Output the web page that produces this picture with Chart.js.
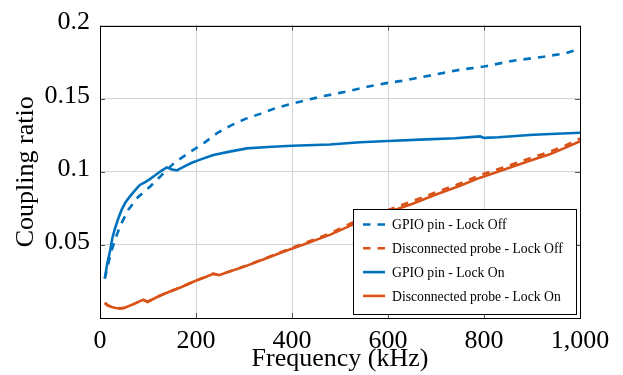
<!DOCTYPE html>
<html>
<head>
<meta charset="utf-8">
<script src="https://cdn.jsdelivr.net/npm/chart.js@4.4.0/dist/chart.umd.min.js"></script>
<style>
html, body { margin: 0; padding: 0; background: #fff; }
</style>
</head>
<body>
<canvas id="canvas" width="623" height="375"></canvas>
<script>

var xTicks = [0, 200, 400, 600, 800, 1000];
var yTicks = [0.05, 0.1, 0.15, 0.2];

var seriesNames = [
    'GPIO pin - Lock Off',
    'Disconnected probe - Lock Off',
    'GPIO pin - Lock On',
    'Disconnected probe - Lock On'
];

// GPIO pin, lock off (dashed blue)
var gpioOffFreq  = [10, 17, 24, 28, 32, 42, 59, 80, 104, 128, 156, 189, 217, 244, 272, 303, 335, 366, 397, 431, 462, 497, 528, 562, 594, 628, 658, 687, 750, 800, 861, 924, 969, 990, 1000];
var gpioOffRatio = [0.027, 0.037, 0.046, 0.050, 0.054, 0.063, 0.074, 0.083, 0.0898, 0.0976, 0.1065, 0.1138, 0.1198, 0.1264, 0.1316, 0.1362, 0.1398, 0.1436, 0.1464, 0.1491, 0.1515, 0.1538, 0.156, 0.1585, 0.1605, 0.1622, 0.164, 0.1658, 0.1698, 0.172, 0.176, 0.1787, 0.181, 0.1831, 0.1845];

// disconnected probe, lock off (dashed orange)
var probeOffFreq  = [10, 16, 24, 33, 42, 50, 59, 70, 80, 90, 99, 120, 142, 170, 198, 220, 236, 248, 270, 302, 340, 382, 430, 480, 524, 560, 597, 650, 700, 750, 792, 850, 900, 937, 970, 1000];
var probeOffRatio = [0.0105, 0.0088, 0.0076, 0.0069, 0.0066, 0.0069, 0.008, 0.0095, 0.011, 0.0126, 0.0111, 0.0146, 0.0177, 0.0213, 0.0254, 0.0281, 0.0303, 0.0294, 0.0319, 0.0355, 0.0403, 0.0457, 0.0517, 0.058, 0.065, 0.069, 0.0735, 0.0798, 0.086, 0.092, 0.0978, 0.104, 0.1097, 0.1137, 0.118, 0.1228];

// GPIO pin, lock on (solid blue)
var gpioOnFreq  = [10, 15, 21, 26, 31, 38, 45, 53, 62, 72, 83, 94, 104, 115, 127, 139, 150, 160, 175, 190, 210, 236, 270, 306, 350, 400, 479, 542, 600, 667, 740, 792, 800, 830, 903, 1000];
var gpioOnRatio = [0.027, 0.037, 0.046, 0.055, 0.061, 0.068, 0.074, 0.079, 0.083, 0.087, 0.091, 0.093, 0.095, 0.0976, 0.1005, 0.103, 0.1015, 0.101, 0.1035, 0.106, 0.1085, 0.1115, 0.1138, 0.116, 0.117, 0.1178, 0.1187, 0.1202, 0.1211, 0.122, 0.123, 0.1242, 0.1232, 0.1236, 0.1253, 0.1267];

// disconnected probe, lock on (solid orange)
var probeOnFreq  = [10, 16, 24, 33, 42, 50, 59, 70, 80, 90, 99, 120, 142, 170, 198, 220, 236, 248, 270, 302, 340, 382, 430, 480, 524, 560, 597, 650, 700, 750, 792, 850, 900, 937, 970, 1000];
var probeOnRatio = [0.0102, 0.0085, 0.0075, 0.0068, 0.0065, 0.0068, 0.008, 0.0095, 0.011, 0.0125, 0.011, 0.0145, 0.0176, 0.0212, 0.0253, 0.028, 0.0302, 0.0293, 0.0318, 0.0353, 0.040, 0.0453, 0.051, 0.057, 0.0635, 0.0675, 0.072, 0.078, 0.0845, 0.0905, 0.096, 0.1025, 0.108, 0.112, 0.1165, 0.1209];

var blue = '#0072bd';
var orange = '#d95319';
var serif = "'Liberation Serif', 'DejaVu Serif', serif";

function points(xs, ys) {
    return xs.map(function (x, i) { return {x: x, y: ys[i]}; });
}

function makeSet(i, xs, ys, color, dashed, order) {
    return {
        label: seriesNames[i],
        data: points(xs, ys),
        borderColor: color,
        backgroundColor: color,
        borderWidth: 2.6,
        borderDash: dashed ? [7.5, 7] : [],
        pointRadius: 0,
        tension: 0,
        fill: false,
        order: order
    };
}

var framePlugin = {
    id: 'frame',
    afterDatasetsDraw: function (chart) {
        var ctx = chart.ctx;
        var a = chart.chartArea;
        var sx = chart.scales.x, sy = chart.scales.y;
        ctx.save();
        ctx.setLineDash([]);
        // inward tick marks like pgfplots
        ctx.strokeStyle = '#555';
        ctx.lineWidth = 1;
        ctx.beginPath();
        xTicks.forEach(function (v) {
            var px = Math.round(sx.getPixelForValue(v)) + 0.5;
            ctx.moveTo(px, a.top); ctx.lineTo(px, a.top + 5);
            ctx.moveTo(px, a.bottom); ctx.lineTo(px, a.bottom - 5);
        });
        yTicks.forEach(function (v) {
            var py = Math.round(sy.getPixelForValue(v)) + 0.5;
            ctx.moveTo(a.left, py); ctx.lineTo(a.left + 5, py);
            ctx.moveTo(a.right, py); ctx.lineTo(a.right - 5, py);
        });
        ctx.stroke();
        ctx.strokeStyle = '#000';
        ctx.strokeRect(Math.round(a.left) + 0.5, Math.round(a.top) + 0.5, Math.round(a.width), Math.round(a.height));
        ctx.restore();
    },
    afterDraw: function (chart) {
        var ctx = chart.ctx;
        var a = chart.chartArea;
        var w = 223, h = 105;
        var lx = Math.round(a.right - 4 - w), ly = Math.round(a.bottom - 4 - h);
        ctx.save();
        ctx.fillStyle = '#fff';
        ctx.fillRect(lx, ly, w, h);
        ctx.strokeStyle = '#000';
        ctx.lineWidth = 1;
        ctx.setLineDash([]);
        ctx.strokeRect(lx + 0.5, ly + 0.5, w, h);
        ctx.font = '13.7px ' + serif;
        ctx.textBaseline = 'middle';
        ctx.textAlign = 'left';
        chart.data.datasets.forEach(function (ds, i) {
            var y = ly + 15.5 + i * 23.8;
            ctx.beginPath();
            ctx.strokeStyle = ds.borderColor;
            ctx.lineWidth = ds.borderWidth;
            ctx.setLineDash(ds.borderDash);
            ctx.moveTo(lx + 10, y);
            ctx.lineTo(lx + 32, y);
            ctx.stroke();
            ctx.fillStyle = '#000';
            ctx.fillText(ds.label, lx + 39, y + 1);
        });
        ctx.restore();
    }
};

var ctx = document.getElementById('canvas').getContext('2d');
window.myChart = new Chart(ctx, {
    type: 'line',
    data: {
        datasets: [
            makeSet(0, gpioOffFreq, gpioOffRatio, blue, true, 4),
            makeSet(1, probeOffFreq, probeOffRatio, orange, true, 3),
            makeSet(2, gpioOnFreq, gpioOnRatio, blue, false, 2),
            makeSet(3, probeOnFreq, probeOnRatio, orange, false, 1)
        ]
    },
    options: {
        responsive: false,
        animation: false,
        devicePixelRatio: 1,
        layout: {
            padding: {left: 0, right: 43, top: 18, bottom: 0}
        },
        plugins: {
            legend: {display: false},
            tooltip: {enabled: false}
        },
        scales: {
            x: {
                type: 'linear',
                min: 0,
                max: 1000,
                afterBuildTicks: function (scale) {
                    scale.ticks = xTicks.map(function (v) { return {value: v}; });
                },
                afterFit: function (scale) { scale.height = 57; },
                grid: {color: '#d4d4d4', lineWidth: 1, drawTicks: false},
                border: {display: false},
                ticks: {
                    padding: 8,
                    color: '#000',
                    font: {family: serif, size: 26},
                    maxRotation: 0,
                    callback: function (v) { return v.toLocaleString('en-US'); }
                },
                title: {
                    display: true,
                    text: 'Frequency (kHz)',
                    color: '#000',
                    font: {family: serif, size: 26},
                    padding: {top: 0, bottom: 0}
                }
            },
            y: {
                min: 0,
                max: 0.2,
                afterBuildTicks: function (scale) {
                    scale.ticks = yTicks.map(function (v) { return {value: v}; });
                },
                afterFit: function (scale) { scale.width = 100; },
                grid: {color: '#d4d4d4', lineWidth: 1, drawTicks: false},
                border: {display: false},
                ticks: {
                    padding: 10,
                    labelOffset: -3,
                    color: '#000',
                    font: {family: serif, size: 26},
                    callback: function (v) { return String(+v.toFixed(2)); }
                },
                title: {
                    display: true,
                    text: 'Coupling ratio',
                    color: '#000',
                    font: {family: serif, size: 26},
                    padding: {top: 11, bottom: 0}
                }
            }
        }
    },
    plugins: [framePlugin]
});
</script>
</body>
</html>
